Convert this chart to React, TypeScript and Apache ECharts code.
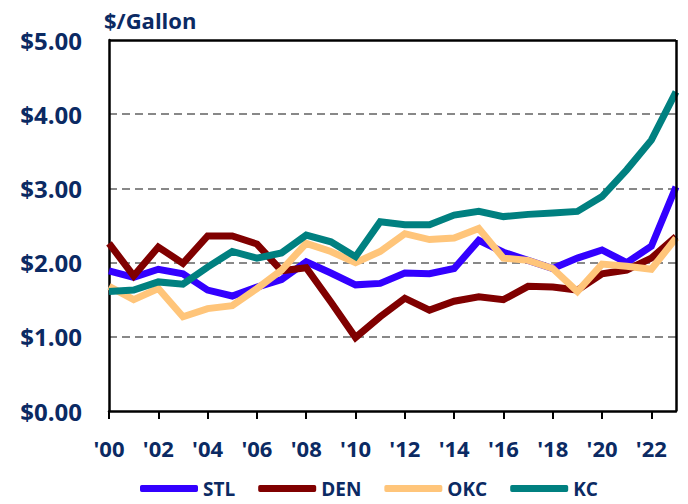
import React, { useEffect, useRef } from "react";
import * as echarts from "echarts";

const years = ["'00","'01","'02","'03","'04","'05","'06","'07","'08","'09","'10","'11","'12","'13","'14","'15","'16","'17","'18","'19","'20","'21","'22","'23"];
const stl = [1.89,1.80,1.91,1.85,1.63,1.55,1.67,1.77,2.01,1.86,1.70,1.72,1.86,1.85,1.92,2.30,2.14,2.03,1.92,2.06,2.17,2.00,2.22,3.02];
const den = [2.26,1.82,2.21,1.99,2.36,2.36,2.25,1.89,1.93,1.47,0.99,1.27,1.52,1.36,1.48,1.54,1.50,1.68,1.67,1.63,1.85,1.90,2.06,2.35];
const okc = [1.68,1.50,1.65,1.27,1.38,1.42,1.65,1.90,2.26,2.15,2.00,2.15,2.39,2.31,2.33,2.46,2.06,2.03,1.92,1.61,1.98,1.95,1.91,2.33];
const kc = [1.61,1.63,1.74,1.71,1.94,2.15,2.06,2.13,2.37,2.28,2.08,2.55,2.51,2.51,2.64,2.69,2.62,2.65,2.67,2.69,2.89,3.25,3.65,4.30];
const seriesNames = ["STL", "DEN", "OKC", "KC"];
const seriesColors = ["#3300FF", "#800000", "#FFC57A", "#008080"];
const yMax = 5;

const NAVY = "#0B2A63";
const FONT = "Open Sans";
const W = 688, H = 504;

export default function App() {
  const ref = useRef<HTMLDivElement>(null);
  useEffect(() => {
    if (!ref.current) return;
    const chart = echarts.init(ref.current, null, { renderer: "svg" });
    const datasets = [stl, den, okc, kc];
    const frameLine = { show: true, onZero: false, lineStyle: { color: "#000", width: 2.5 } };
    chart.setOption({
      animation: false,
      backgroundColor: "#fff",
      title: {
        text: "$/Gallon",
        left: 104,
        top: 9,
        padding: [0, 0, 0, 0],
        textStyle: { fontFamily: FONT, fontWeight: "bold", fontSize: 22, color: NAVY },
      },
      grid: { left: 109, right: 12, top: 40, bottom: 93 },
      legend: {
        data: seriesNames,
        left: 140,
        top: 479,
        padding: 0,
        itemWidth: 58,
        itemHeight: 7,
        itemGap: 23,
        icon: "roundRect",
        textStyle: { fontFamily: FONT, fontWeight: "bold", fontSize: 19, color: NAVY },
      },
      xAxis: {
        type: "category",
        data: years,
        boundaryGap: false,
        axisLine: frameLine,
        axisTick: { show: true, interval: 1, length: 8, lineStyle: { color: "#000", width: 2 } },
        axisLabel: { interval: 1, margin: 26, fontFamily: FONT, fontWeight: "bold", fontSize: 22, color: NAVY },
        splitLine: { show: false },
      },
      yAxis: {
        type: "value",
        min: 0, max: yMax, interval: 1,
        axisLine: frameLine,
        axisTick: { show: false },
        axisLabel: {
          margin: 27, fontFamily: FONT, fontWeight: "bold", fontSize: 24, color: NAVY,
          formatter: (v: number) => "$" + v.toFixed(2),
        },
        splitLine: { show: true, showMaxLine: false, showMinLine: false, lineStyle: { color: "#888", width: 2, type: [8, 5] } },
      },
      series: datasets.map((d, i) => ({
        name: seriesNames[i],
        type: "line",
        data: d,
        showSymbol: false,
        symbol: "none",
        color: seriesColors[i],
        lineStyle: { width: 7, color: seriesColors[i], join: "miter" },
        itemStyle: { color: seriesColors[i] },
        markLine: i === datasets.length - 1 ? {
          silent: true,
          symbol: ["none", "none"],
          label: { show: false },
          lineStyle: { color: "#000", width: 2.5, type: "solid" },
          data: [
            { yAxis: yMax },
            { xAxis: years.length - 1 },
          ],
        } : undefined,
      })),
    });
    return () => chart.dispose();
  }, []);
  return <div ref={ref} style={{ width: W, height: H, position: "absolute", left: 0, top: 0 }} />;
}
